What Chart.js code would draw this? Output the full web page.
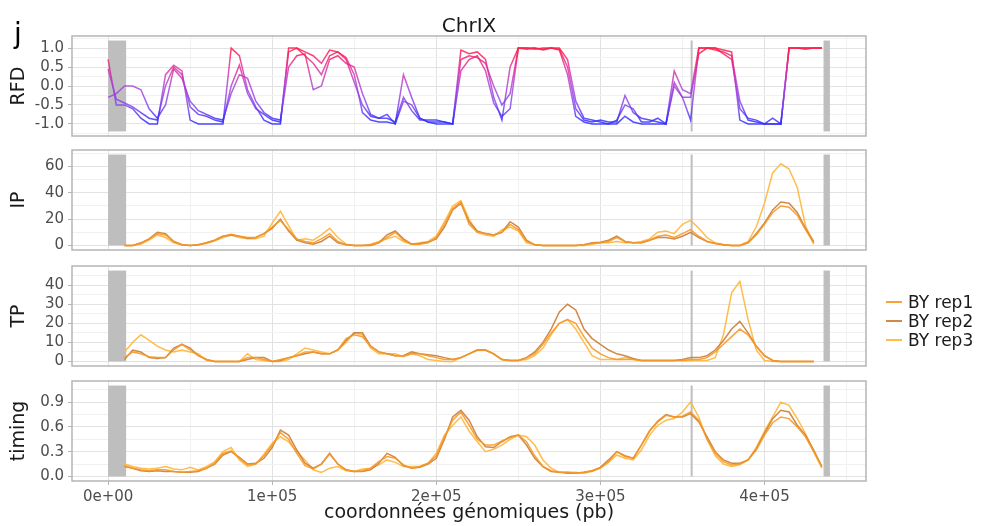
<!DOCTYPE html>
<html><head><meta charset="utf-8">
<script src="https://cdn.jsdelivr.net/npm/chart.js@4.4.1/dist/chart.umd.min.js"></script>
<style>
html,body{margin:0;padding:0;background:#fff;}
#wrap{position:relative;width:987px;height:526px;overflow:hidden;font-family:"DejaVu Sans",sans-serif;}
#wrap canvas{position:absolute;left:0;top:0;}
#tag{position:absolute;left:14px;top:20px;font-size:28px;line-height:1;color:#000;}
#title{position:absolute;left:369px;width:200px;text-align:center;top:15px;font-size:20px;line-height:1;color:#1a1a1a;}
.leg{position:absolute;left:886px;font-size:17px;line-height:1;color:#1a1a1a;white-space:nowrap;}
.leg span{display:inline-block;width:16px;height:2px;vertical-align:middle;margin-right:6px;position:relative;top:-1px;}
</style></head><body>
<div id="wrap">
<canvas id="c1" width="987" height="526"></canvas>
<canvas id="c2" width="987" height="526"></canvas>
<canvas id="c3" width="987" height="526"></canvas>
<canvas id="c4" width="987" height="526"></canvas>
<div id="tag">j</div>
<div id="title">ChrIX</div>
<div id="legend"></div>
</div>
<script>
// ---------- data (positions in bp) ----------
const positions = [0,5000,10000,15000,20000,25000,30000,35000,40000,45000,
 50000,55000,60000,65000,70000,75000,80000,85000,90000,95000,
 100000,105000,110000,115000,120000,125000,130000,135000,140000,145000,
 150000,155000,160000,165000,170000,175000,180000,185000,190000,195000,
 200000,205000,210000,215000,220000,225000,230000,235000,240000,245000,
 250000,255000,260000,265000,270000,275000,280000,285000,290000,295000,
 300000,305000,310000,315000,320000,325000,330000,335000,340000,345000,
 350000,355000,360000,365000,370000,375000,380000,385000,390000,395000,
 400000,405000,410000,415000,420000,425000,430000,435000,440000];

const seriesNames = ['BY rep1','BY rep2','BY rep3'];

const rfdRep1 = [0.7,-0.5,-0.5,-0.6,-0.85,-1.0,-1.0,0.3,0.55,0.4,
 -0.9,-1.0,-1.0,-1.0,-1.0,1.0,0.8,-0.1,-0.55,-0.9,
 -1.0,-1.0,1.0,1.0,0.9,0.8,0.6,0.95,0.9,0.75,
 0.3,-0.7,-0.9,-0.95,-0.95,-1.0,0.3,-0.3,-0.85,-0.95,
 -1.0,-1.0,-1.0,0.95,0.85,0.9,0.7,-0.3,-0.9,0.5,
 1.0,1.0,0.97,1.0,1.0,0.95,0.3,-0.8,-0.95,-1.0,
 -1.0,-1.0,-1.0,-0.8,-0.95,-1.0,-1.0,-1.0,-1.0,0.1,
 -0.3,-0.9,1.0,1.0,1.0,0.95,0.9,-0.9,-1.0,-1.0,
 -1.0,-1.0,-1.0,1.0,1.0,1.0,1.0,1.0,null];
const rfdRep2 = [0.45,-0.35,-0.45,-0.55,-0.7,-0.85,-0.9,0.0,0.5,0.3,
 -0.55,-0.75,-0.8,-0.9,-0.95,0.0,0.55,-0.2,-0.6,-0.75,
 -0.9,-0.95,0.9,1.0,0.8,0.6,0.3,0.8,0.9,0.7,
 0.1,-0.5,-0.8,-0.85,-0.75,-1.0,-0.4,-0.5,-0.85,-0.95,
 -0.95,-0.95,-1.0,0.7,0.8,0.75,0.6,0.0,-0.5,-0.2,
 1.0,0.97,1.0,0.95,1.0,0.97,0.5,-0.6,-0.9,-0.95,
 -0.9,-0.95,-0.95,-0.25,-0.7,-0.85,-0.9,-0.95,-1.0,0.0,
 -0.3,-0.3,0.85,1.0,1.0,0.85,0.7,-0.6,-0.85,-0.9,
 -1.0,-0.85,-1.0,1.0,1.0,0.97,1.0,1.0,null];
const rfdRep3 = [-0.3,-0.2,0.0,0.0,-0.1,-0.6,-0.85,-0.5,0.45,0.2,
 -0.4,-0.65,-0.75,-0.85,-0.9,-0.2,0.3,0.2,-0.4,-0.7,
 -0.85,-0.9,0.5,0.8,0.85,-0.1,0.0,0.7,0.8,0.6,
 0.5,-0.2,-0.75,-0.85,-0.85,-0.95,-0.3,-0.65,-0.9,-0.9,
 -0.9,-0.95,-1.0,0.4,0.7,0.8,0.4,-0.45,-0.8,-0.6,
 1.0,1.0,1.0,0.97,1.0,1.0,0.7,-0.4,-0.85,-0.9,
 -0.95,-1.0,-0.9,-0.5,-0.6,-0.95,-0.95,-0.85,-1.0,0.4,
 -0.1,-0.2,1.0,1.0,0.95,0.9,0.8,-0.4,-0.9,-0.95,
 -1.0,-1.0,-1.0,1.0,1.0,1.0,1.0,1.0,null];

const ipRep1 = [null,null,0,0,1.5,5,9,8,3,0.5,
 0,0.5,2,4,7,8.5,7,6,6,9,
 14,19,12,5,3,2,5,9,3,0.5,
 0,0,0.5,2,6,10,4,1,1,2,
 6,16,28,33,16,10,9,8,10,16,
 12,3,0.5,0,0,0,0,0,0.5,1.5,
 2,3,6,3,2,2,4,7,8,6,
 9,12,7,3,1.5,0.5,0,0,2,8,
 16,25,30,29,23,12,2,null,null];
const ipRep2 = [null,null,0,0,2,5,10,9,3,0.5,
 0,0.5,2,4,7,8,7,5.5,6,9,
 13,20,11,4,2,1,3,7,2,0.5,
 0,0,0,2,8,11,5,1,1.5,2.5,
 5,14,27,32,18,11,9,8,10,18,
 14,4,0.5,0,0,0,0,0,0.5,2,
 2.5,4,7,3,2,2,4,6,6,5,
 7,10,6,3,1.5,0.5,0,0,2,9,
 17,27,33,32,25,13,3,null,null];
const ipRep3 = [null,null,0,0,1,4,8,6,2,0.5,
 0,0.5,1.5,3.5,6,8,6,5,5,7,
 17,26,15,4,5,4,8,13,6,1,
 0,0,1,3,5,7,3,1,2,3,
 7,18,30,34,20,10,8,7,12,14,
 11,2,0.5,0,0,0,0,0,0,1,
 2,2,3,2,2,3,5,10,11,9,
 16,19,13,6,2,0.5,0,0,3,14,
 32,55,62,58,44,15,1,null,null];

const tpRep1 = [null,null,2,5,4,2.5,2,2,6,9,
 6,3,1,0,0,0,0,2,2,1,
 0,1,2,3,5,5,4,4,6,12,
 14,13,8,5,4,3,3,4,4,3,
 2,1,1,2,4,6,6,4,1,0.5,
 0.5,2,4,9,15,20,22,20,13,7,
 4,2,1,1,1,0.5,0.5,0.5,0.5,0.5,
 0.5,1,1,2,5,9,13,17,14,8,
 3,0.5,0,0,0,0,0,null,null];
const tpRep2 = [null,null,1,6,5,2,1.5,2,7,9,
 7,3,1,0,0,0,0,1,2,2,
 0,0.5,2,3,4,5,4,4,6,11,
 15,15,8,5,4,3,3,5,4,3.5,
 3,2,1,2,4,6,6,4,1,0.5,
 0.5,2,5,10,17,26,30,27,17,12,
 9,6,4,3,1.5,0.5,0.5,0.5,0.5,0.5,
 1,2,2,3,6,11,17,21,15,8,
 3,0.5,0,0,0,0,0,null,null];
const tpRep3 = [null,null,5,10,14,11,8,6,5,6,
 5,4,0.5,0,0,0,0,4,1,0.5,
 0,0,1,4,7,6,5,4,6,10,
 15,14,7,4,4,4,2.5,4,3,1,
 0.5,0,0,2,4,6,6,4,1,0.5,
 0.5,1,3,7,14,20,22,17,10,3,
 1,1,1,2,1,0.5,0.5,0.5,0.5,0.5,
 0.5,0.5,0.5,0.5,2,14,36,42,22,6,
 0.5,0,0,0,0,0,0,null,null];

const timingRep1 = [null,null,0.13,0.1,0.08,0.07,0.08,0.08,0.06,0.05,
 0.06,0.07,0.1,0.16,0.28,0.31,0.22,0.14,0.15,0.25,
 0.38,0.53,0.45,0.28,0.13,0.09,0.15,0.27,0.15,0.08,
 0.06,0.07,0.1,0.18,0.24,0.22,0.14,0.1,0.12,0.16,
 0.25,0.48,0.68,0.78,0.62,0.45,0.38,0.38,0.43,0.47,
 0.5,0.42,0.25,0.12,0.07,0.05,0.05,0.04,0.05,0.07,
 0.1,0.18,0.3,0.24,0.22,0.38,0.55,0.66,0.74,0.72,
 0.73,0.78,0.68,0.45,0.28,0.18,0.14,0.15,0.2,0.32,
 0.5,0.65,0.72,0.7,0.6,0.48,0.3,0.12,null];
const timingRep2 = [null,null,0.12,0.1,0.07,0.06,0.07,0.06,0.06,0.05,
 0.05,0.06,0.1,0.15,0.26,0.3,0.23,0.15,0.16,0.22,
 0.35,0.56,0.5,0.32,0.16,0.1,0.15,0.28,0.15,0.08,
 0.06,0.06,0.08,0.16,0.28,0.23,0.13,0.1,0.11,0.15,
 0.22,0.45,0.72,0.8,0.68,0.48,0.36,0.35,0.42,0.48,
 0.5,0.38,0.22,0.12,0.06,0.05,0.04,0.04,0.05,0.07,
 0.11,0.2,0.3,0.25,0.22,0.38,0.55,0.67,0.75,0.72,
 0.72,0.76,0.66,0.48,0.3,0.2,0.16,0.16,0.2,0.33,
 0.52,0.7,0.8,0.78,0.62,0.5,0.32,0.12,null];
const timingRep3 = [null,null,0.15,0.12,0.1,0.09,0.1,0.12,0.09,0.08,
 0.11,0.08,0.12,0.18,0.3,0.35,0.2,0.12,0.15,0.27,
 0.4,0.48,0.42,0.3,0.2,0.08,0.05,0.1,0.12,0.07,
 0.06,0.09,0.1,0.14,0.2,0.17,0.12,0.12,0.12,0.16,
 0.28,0.5,0.62,0.72,0.55,0.42,0.3,0.33,0.38,0.45,
 0.5,0.48,0.38,0.2,0.1,0.05,0.05,0.05,0.04,0.06,
 0.1,0.17,0.26,0.22,0.2,0.32,0.5,0.62,0.68,0.7,
 0.78,0.9,0.72,0.45,0.25,0.15,0.12,0.14,0.2,0.35,
 0.55,0.72,0.9,0.86,0.7,0.52,0.3,0.1,null];

// masked regions (telomeres) and centromere position, bp
const maskedRegions = [[0, 11000], [436000, 439888]];
const centromere = 355629;

// axis ticks
const xMajorTicks = [0, 100000, 200000, 300000, 400000];
const xMinorTicks = [50000, 150000, 250000, 350000, 450000];
const xTickLabels = ['0e+00','1e+05','2e+05','3e+05','4e+05'];
const rfdTicks = [-1, -0.5, 0, 0.5, 1];
const rfdMinor = [-1.25, -0.75, -0.25, 0.25, 0.75, 1.25];
const ipTicks = [0, 20, 40, 60];
const ipMinor = [10, 30, 50, 70];
const tpTicks = [0, 10, 20, 30, 40];
const tpMinor = [5, 15, 25, 35, 45];
const timingTicks = [0, 0.3, 0.6, 0.9];
const timingMinor = [0.15, 0.45, 0.75, 1.05];

// ---------- styling ----------
const X_MIN = -21994, X_MAX = 461882;
const repColors = ['rgba(246,152,38,0.9)', 'rgba(204,124,52,0.9)', 'rgba(255,182,56,0.9)'];
const GRID_MAJOR = '#e2e2e2', GRID_MINOR = '#f1f1f1', BORDER = '#b5b5b5', MASK = '#bebebe';
const TICK_FONT = {family: 'DejaVu Sans', size: 15};
const TITLE_FONT = {family: 'DejaVu Sans', size: 19};
Chart.defaults.font.family = 'DejaVu Sans';

function pts(arr) { return positions.map((p, i) => ({x: p, y: arr[i]})); }

function rfdColor(ctx) {
  const chart = ctx.chart;
  if (!chart.chartArea) return 'rgb(160,60,220)';
  const y = chart.scales.y;
  const g = chart.ctx.createLinearGradient(0, y.getPixelForValue(1), 0, y.getPixelForValue(-1));
  g.addColorStop(0, 'rgba(255,30,70,0.85)');
  g.addColorStop(0.25, 'rgba(225,40,150,0.8)');
  g.addColorStop(0.5, 'rgba(170,60,215,0.8)');
  g.addColorStop(0.75, 'rgba(125,60,238,0.8)');
  g.addColorStop(1, 'rgba(45,45,255,0.85)');
  return g;
}

const deco = {
  id: 'deco',
  beforeDatasetsDraw(chart, args, opts) {
    const {ctx, chartArea: a, scales: {x, y}} = chart;
    ctx.save();
    ctx.beginPath(); ctx.rect(a.left, a.top, a.width, a.height); ctx.clip();
    ctx.fillStyle = MASK;
    const yTop = y.getPixelForValue(opts.hi), yBot = y.getPixelForValue(opts.lo);
    for (const [s, e] of maskedRegions) {
      const x0 = x.getPixelForValue(s), x1 = x.getPixelForValue(e);
      ctx.fillRect(x0, yTop, x1 - x0, yBot - yTop);
    }
    ctx.strokeStyle = MASK; ctx.lineWidth = 2;
    const cx = x.getPixelForValue(centromere);
    ctx.beginPath(); ctx.moveTo(cx, yBot); ctx.lineTo(cx, yTop); ctx.stroke();
    ctx.restore();
  },
  afterDatasetsDraw(chart) {
    const {ctx, chartArea: a} = chart;
    ctx.save();
    ctx.strokeStyle = BORDER; ctx.lineWidth = 1.5;
    ctx.strokeRect(a.left, a.top, a.width, a.height);
    ctx.restore();
  }
};

function makePanel(id, p) {
  const yMajorSet = new Set(p.major);
  const xMajorSet = new Set(xMajorTicks);
  return new Chart(document.getElementById(id), {
    type: 'line',
    data: {datasets: p.datasets},
    options: {
      responsive: false, animation: false, devicePixelRatio: 1,
      layout: {padding: {left: 0, right: 121, top: p.top, bottom: p.bottom}},
      elements: {point: {radius: 0, hoverRadius: 0}, line: {borderWidth: 1.5, tension: 0}},
      plugins: {legend: {display: false}, tooltip: {enabled: false}, deco: {lo: p.rect[0], hi: p.rect[1]}},
      scales: {
        x: {
          type: 'linear', min: X_MIN, max: X_MAX,
          afterBuildTicks: s => { s.ticks = xMajorTicks.concat(xMinorTicks).sort((a, b) => a - b).map(v => ({value: v})); },
          afterFit: s => { s.height = p.xHeight; },
          border: {display: false},
          grid: {
            color: c => xMajorSet.has(c.tick && c.tick.value) ? GRID_MAJOR : GRID_MINOR,
            lineWidth: 1,
            drawTicks: p.showX, tickLength: 4,
            tickColor: c => xMajorSet.has(c.tick && c.tick.value) ? BORDER : 'rgba(0,0,0,0)'
          },
          ticks: {
            display: p.showX, autoSkip: false, maxRotation: 0, padding: 3,
            color: '#4d4d4d', font: TICK_FONT,
            callback: v => { const k = xMajorTicks.indexOf(v); return k >= 0 ? xTickLabels[k] : ''; }
          },
          title: {display: p.showX, text: 'coordonnées génomiques (pb)', color: '#1a1a1a',
                  font: {family: 'DejaVu Sans', size: 19}, padding: {top: 0, bottom: 2}}
        },
        y: {
          type: 'linear', min: p.min, max: p.max,
          afterBuildTicks: s => { s.ticks = p.major.concat(p.minor).sort((a, b) => a - b).map(v => ({value: v})); },
          afterFit: s => { s.width = 72; },
          border: {display: false},
          grid: {
            color: c => yMajorSet.has(c.tick && c.tick.value) ? GRID_MAJOR : GRID_MINOR,
            lineWidth: 1, tickLength: 4,
            tickColor: c => yMajorSet.has(c.tick && c.tick.value) ? BORDER : 'rgba(0,0,0,0)'
          },
          ticks: {
            autoSkip: false, padding: 4, color: '#4d4d4d', font: TICK_FONT,
            callback: v => yMajorSet.has(v) ? v.toFixed(p.decimals) : ''
          },
          title: {display: true, text: p.title, color: '#1a1a1a', font: TITLE_FONT, padding: {top: 8, bottom: 0}}
        }
      }
    },
    plugins: [deco]
  });
}

function orangeSets(a, b, c) {
  return [a, b, c].map((arr, i) => ({label: seriesNames[i], data: pts(arr), borderColor: repColors[i], spanGaps: false}));
}

makePanel('c1', {
  top: 36, bottom: 390, xHeight: 0, showX: false,
  min: -1.32, max: 1.32, major: rfdTicks, minor: rfdMinor, decimals: 1, rect: [-1.2, 1.2], title: 'RFD',
  datasets: [rfdRep1, rfdRep2, rfdRep3].map((arr, i) => ({label: seriesNames[i], data: pts(arr), borderColor: rfdColor}))
});
makePanel('c2', {
  top: 150, bottom: 276, xHeight: 0, showX: false,
  min: -3.45, max: 72.45, major: ipTicks, minor: ipMinor, decimals: 0, rect: [0, 69], title: 'IP',
  datasets: orangeSets(ipRep1, ipRep2, ipRep3)
});
makePanel('c3', {
  top: 266, bottom: 160, xHeight: 0, showX: false,
  min: -2.4, max: 50.1, major: tpTicks, minor: tpMinor, decimals: 0, rect: [0, 47.7], title: 'TP',
  datasets: orangeSets(tpRep1, tpRep2, tpRep3)
});
makePanel('c4', {
  top: 381, bottom: 0, xHeight: 45, showX: true,
  min: -0.055, max: 1.155, major: timingTicks, minor: timingMinor, decimals: 1, rect: [0, 1.1], title: 'timing',
  datasets: orangeSets(timingRep1, timingRep2, timingRep3)
});

// legend
const leg = document.getElementById('legend');
seriesNames.forEach((n, i) => {
  const d = document.createElement('div');
  d.className = 'leg';
  d.style.top = (294 + i * 19) + 'px';
  d.innerHTML = '<span style="background:' + repColors[i] + '"></span>' + n;
  leg.appendChild(d);
});
</script>
</body></html>
